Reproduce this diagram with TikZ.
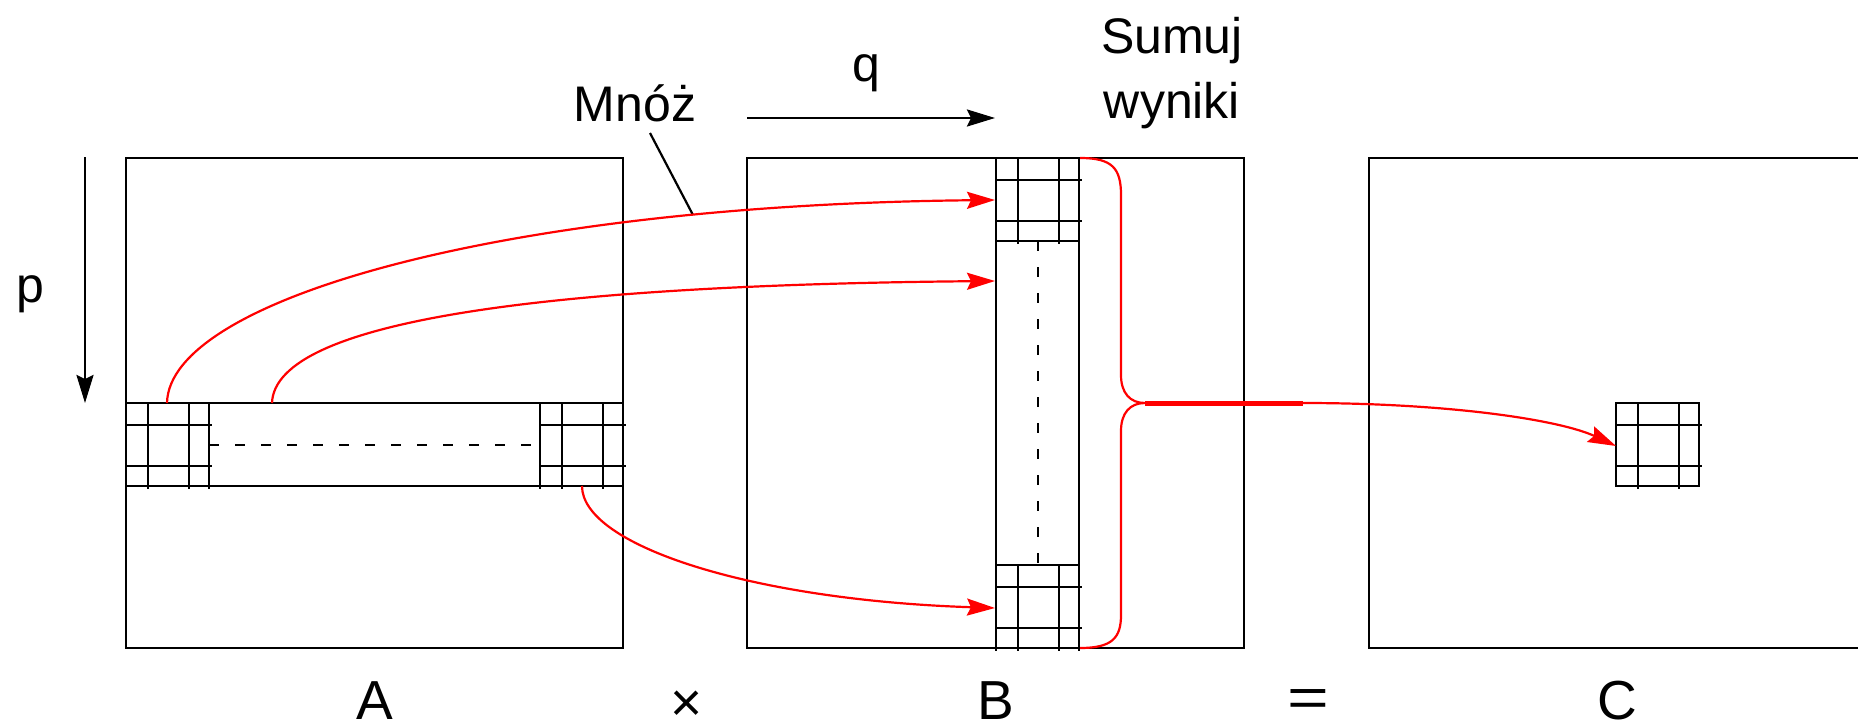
\documentclass[tikz,border=0pt]{standalone}
\usepackage{fontspec}
\setmainfont{Liberation Sans}
\usetikzlibrary{arrows.meta}
\newcommand\mygridcell[2]{%
  \draw[gl] (#1,#2) rectangle ++(83,83);
  \foreach \d in {22,63}{%
    \draw[gl] (#1+\d,#2) -- ++(0,86);
    \draw[gl] (#1,#2+\d) -- ++(86,0);
  }%
}
\begin{document}
\begin{tikzpicture}[x=1pt,y=-1pt,
  box/.style={draw=black, line width=2.5pt, inner sep=0pt, outer sep=0pt},
  gl/.style={draw=black, line width=2.5pt},
  dsh/.style={draw=black, line width=2.5pt, dash pattern=on 10pt off 16pt},
  redline/.style={draw=red, line width=2.2pt},
  redarrow/.style={draw=red, line width=2.2pt, -{Stealth[length=28pt,width=17pt,inset=4pt]}},
  blackarrow/.style={draw=black, line width=2.5pt, -{Stealth[length=28pt,width=17pt,inset=4pt]}},
  lab/.style={font=\fontsize{50}{60}\selectfont, inner sep=0pt, anchor=base},
  biglab/.style={font=\fontsize{55}{66}\selectfont, inner sep=0pt, anchor=base},
]
\useasboundingbox (0,0) rectangle (1858,728);
\clip (0,0) rectangle (1858,728);

% matrices
\node[box, minimum width=497pt, minimum height=490pt] (matA) at (374.5,403) {};
\node[box, minimum width=497pt, minimum height=490pt] (matB) at (995.5,403) {};
\node[box, minimum width=497pt, minimum height=490pt] (matC) at (1617.5,403) {};

% row band in A
\draw[gl] (126,403) -- (623,403);
\draw[gl] (126,486) -- (623,486);
\mygridcell{126}{403}
\mygridcell{540}{403}
\draw[gl] (209,403) -- (209,489);
\draw[gl] (540,403) -- (540,489);
\draw[dsh] (209,445) -- (540,445);

% column in B
\draw[gl] (996,158) -- (996,651);
\draw[gl] (1079,158) -- (1079,651);
\mygridcell{996}{158}
\mygridcell{996}{565}
\draw[dsh] (1038,241) -- (1038,565);

% block in C
\mygridcell{1616}{403}

% direction arrows
\coordinate (p0) at (85,157);
\coordinate (p1) at (85,403);
\draw[blackarrow] (p0) -- (p1);
\coordinate (q0) at (747,118);
\coordinate (q1) at (995,118);
\draw[blackarrow] (q0) -- (q1);

% labels
\node[lab] (mnoz) at (635,121.5) {Mnóż};
\node[lab] (qlab) at (866,81) {q};
\node[lab] (plab) at (30,302.5) {p};
\node[lab] (sum1) at (1172,53) {Sumuj};
\node[lab] (sum2) at (1172,118) {wyniki};
\node[biglab] (la) at (374.5,719) {A};
\node[biglab] (lb) at (995.5,719) {B};
\node[biglab] (lc) at (1617,719) {C};
\node[biglab, anchor=center] (times) at (687,706) {×};
\node[biglab, anchor=center, xscale=1.3] (eq) at (1308,703) {=};

% leader for Mnoz
\coordinate (m0) at (650,133);
\coordinate (m1) at (693,215);
\draw[black, line width=2.2pt] (m0) -- (m1);

% red multiply arrows
\coordinate (s1) at (167,403);
\coordinate (t1) at (995,200);
\draw[redarrow] (s1) .. controls (169,300) and (500,205) .. (t1);
\coordinate (s2) at (272,403);
\coordinate (t2) at (995,281);
\draw[redarrow] (s2) .. controls (275,320) and (550,285) .. (t2);
\coordinate (s3) at (582,486);
\coordinate (t3) at (995,608);
\draw[redarrow] (s3) .. controls (582,545) and (750,600) .. (t3);

% brace
\coordinate (bt) at (1080,158);
\coordinate (tip) at (1145,403);
\coordinate (bb) at (1080,648);
\draw[redline] (bt) .. controls (1112,158) and (1121,168) .. (1121,195)
  -- (1121,375) .. controls (1121,393) and (1130,403) .. (tip)
  .. controls (1130,403) and (1121,413) .. (1121,431)
  -- (1121,615) .. controls (1121,638) and (1112,648) .. (bb);

% sum to C
\coordinate (thk) at (1303,403);
\coordinate (tc) at (1616,446);
\draw[draw=red, line width=5pt] (tip) -- (thk);
\draw[redarrow] (thk) .. controls (1450,403) and (1560,420) .. (tc);
\end{tikzpicture}
\end{document}
